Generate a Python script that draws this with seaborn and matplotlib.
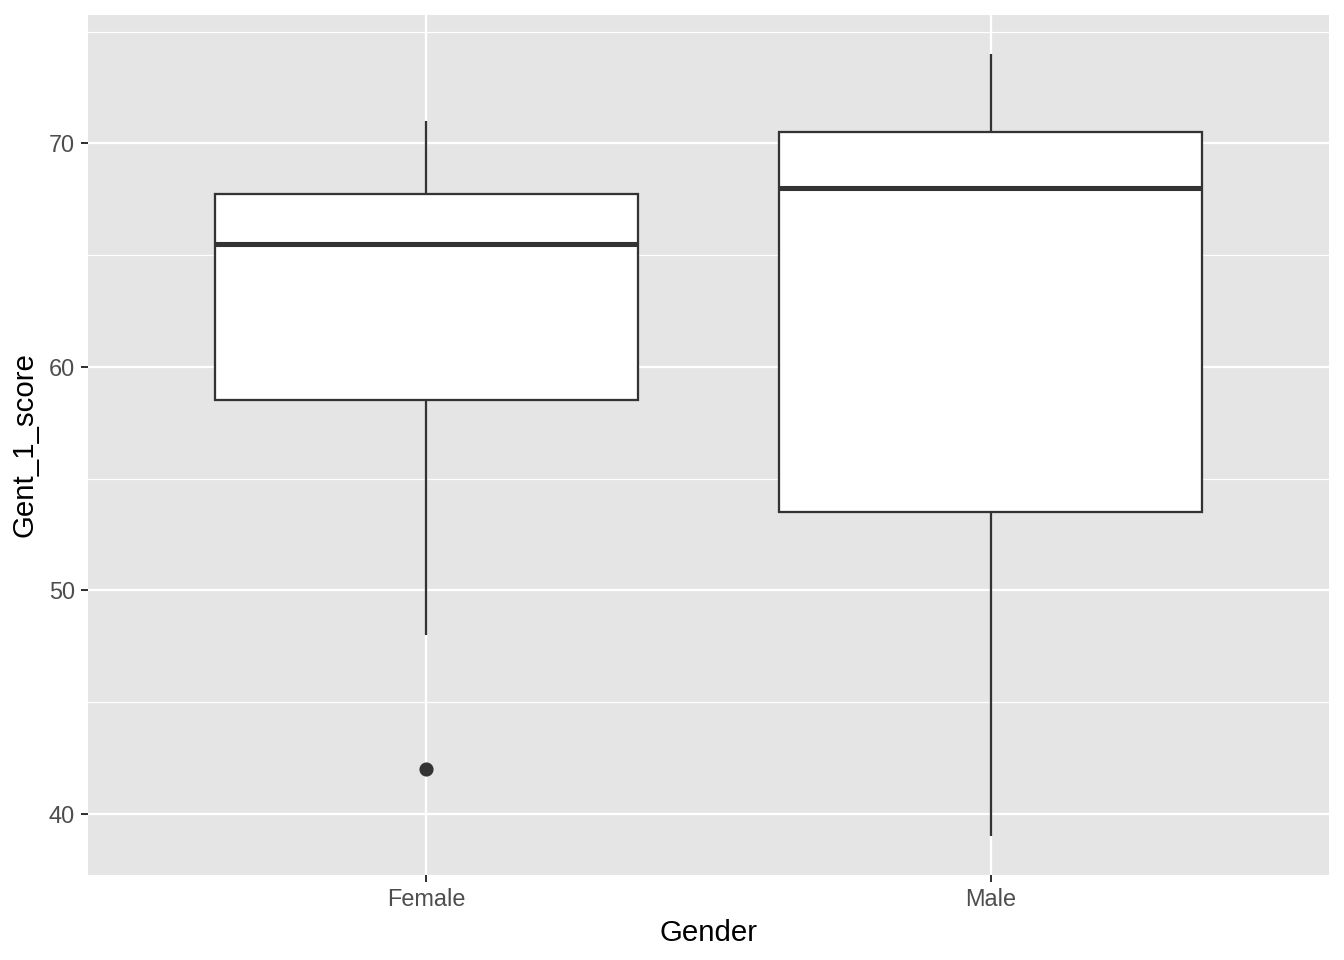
"""
Boxplot of Gent_1_score by gender, ggplot grey theme look.
"""
import matplotlib.pyplot as plt
import pandas as pd
import seaborn as sns
from matplotlib.ticker import MultipleLocator

# Scores per group
GENDERS = ["Female", "Male"]
FEMALE_SCORES = [42, 48, 58, 60, 65, 66, 67, 68, 70, 71]
MALE_SCORES = [39, 45, 53, 55, 67, 69, 69, 71, 72, 74]
Y_TICKS = [40, 50, 60, 70]

INK = "#333333"
PANEL = "#E5E5E5"

df = pd.DataFrame(
    {
        "Gender": ["Female"] * len(FEMALE_SCORES) + ["Male"] * len(MALE_SCORES),
        "Gent_1_score": FEMALE_SCORES + MALE_SCORES,
    }
)

sns.set_style("white")
plt.rcParams["font.family"] = ["Liberation Sans", "DejaVu Sans"]

fig, ax = plt.subplots(figsize=(7, 5), dpi=192)
fig.subplots_adjust(left=88 / 1344, right=1329 / 1344, top=1 - 15 / 960, bottom=1 - 875 / 960)

ax.set_facecolor(PANEL)
for side in ax.spines.values():
    side.set_visible(False)

sns.boxplot(
    data=df,
    x="Gender",
    y="Gent_1_score",
    order=GENDERS,
    ax=ax,
    width=0.75,
    color="white",
    linecolor=INK,
    linewidth=0.85,
    showcaps=False,
    medianprops={"linewidth": 1.9, "color": INK},
    flierprops={
        "marker": "o",
        "markersize": 4.3,
        "markerfacecolor": INK,
        "markeredgecolor": INK,
    },
    saturation=1,
)
for patch in ax.patches:
    patch.set_facecolor("white")
    patch.set_zorder(2)

ax.set_xlim(-0.6, 1.6)
ax.set_ylim(37.25, 75.75)
ax.yaxis.set_major_locator(MultipleLocator(10))
ax.yaxis.set_minor_locator(MultipleLocator(5))
ax.set_yticks(Y_TICKS)
ax.set_yticklabels([str(v) for v in Y_TICKS])

# Grid: major and minor, white, behind everything (seaborn turns x grid off)
ax.set_axisbelow(True)
ax.xaxis.grid(True, which="major", color="white", linewidth=0.85)
ax.yaxis.grid(True, which="major", color="white", linewidth=0.85)
ax.yaxis.grid(True, which="minor", color="white", linewidth=0.45)

ax.tick_params(
    which="major", length=2.75, width=0.75, color=INK, labelcolor="#4D4D4D",
    labelsize=8.8, pad=2.2, left=True, bottom=True,
)
ax.tick_params(which="minor", length=0)

ax.set_xlabel("Gender", fontsize=11, color="black", labelpad=3)
ax.set_ylabel("Gent_1_score", fontsize=11, color="black", labelpad=4)

fig.savefig("out.png", dpi=192)
